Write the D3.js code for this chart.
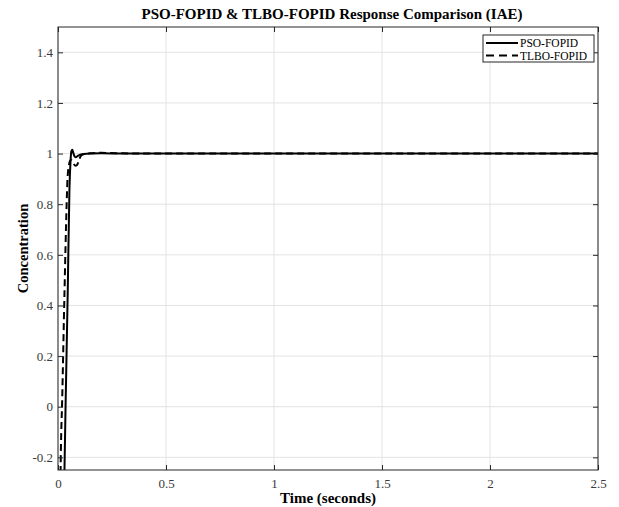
<!DOCTYPE html>
<html>
<head>
<meta charset="utf-8">
<script src="https://cdn.jsdelivr.net/npm/d3@7"></script>
<style>
  body { margin: 0; background: #fff; }
  text { font-family: "Liberation Serif", "Times New Roman", serif; }
</style>
</head>
<body>
<script>
// step response data (time in s, concentration)
var psoTime  = [0, 0.02, 0.03, 0.035, 0.045, 0.053, 0.058, 0.062, 0.066, 0.07, 0.076, 0.082, 0.09, 0.1, 0.12, 0.15, 0.2, 0.3, 0.5, 1, 1.5, 2, 2.5];
var psoValue = [-3, -0.9, -0.25, 0.0, 0.45, 0.86, 0.97, 1.01, 1.015, 1.005, 0.99, 0.985, 0.99, 0.995, 0.998, 1.0, 1.001, 1.0, 1.0, 1.0, 1.0, 1.0, 1.0];
var tlboTime  = [0, 0.005, 0.012, 0.02, 0.03, 0.04, 0.044, 0.05, 0.055, 0.06, 0.066, 0.072, 0.08, 0.088, 0.096, 0.105, 0.12, 0.15, 0.2, 0.25, 0.3, 0.5, 1, 1.5, 2, 2.5];
var tlboValue = [-3, -0.9, -0.25, 0.05, 0.45, 0.8, 0.9, 0.95, 0.97, 0.975, 0.97, 0.96, 0.952, 0.955, 0.97, 0.99, 0.998, 1.001, 1.003, 1.002, 1.001, 1.0, 1.0, 1.0, 1.0, 1.0];
var xTicks = [0, 0.5, 1, 1.5, 2, 2.5];
var yTicks = [-0.2, 0, 0.2, 0.4, 0.6, 0.8, 1, 1.2, 1.4];
var seriesNames = ["PSO-FOPID", "TLBO-FOPID"];

var width = 619, height = 507;
var margin = {left: 58, right: 21, top: 27, bottom: 37};
var plotW = width - margin.left - margin.right;
var plotH = height - margin.top - margin.bottom;

var svg = d3.select('body').append('svg').attr('width', width).attr('height', height);

var x = d3.scaleLinear().domain([0, 2.5]).range([0, plotW]);
var y = d3.scaleLinear().domain([-0.25, 1.5]).range([plotH, 0]);

var g = svg.append('g').attr('transform', 'translate(' + margin.left + ',' + margin.top + ')');

function fmt(d) { return String(+d.toFixed(1)); }

// grid
g.append('g').selectAll('line').data(xTicks).enter().append('line')
    .attr('x1', function (d) { return x(d); }).attr('x2', function (d) { return x(d); })
    .attr('y1', 0).attr('y2', plotH)
    .attr('stroke', '#e3e3e3').attr('stroke-width', 1);
g.append('g').selectAll('line').data(yTicks).enter().append('line')
    .attr('y1', function (d) { return y(d); }).attr('y2', function (d) { return y(d); })
    .attr('x1', 0).attr('x2', plotW)
    .attr('stroke', '#e3e3e3').attr('stroke-width', 1);

// curves
svg.append('defs').append('clipPath').attr('id', 'clip')
    .append('rect').attr('width', plotW).attr('height', plotH);

var line = d3.line()
    .x(function (d) { return x(d[0]); })
    .y(function (d) { return y(d[1]); })
    .curve(d3.curveMonotoneX);

var curves = g.append('g').attr('clip-path', 'url(#clip)');
curves.append('path')
    .datum(d3.zip(tlboTime, tlboValue))
    .attr('d', line)
    .attr('fill', 'none').attr('stroke', '#000').attr('stroke-width', 2)
    .attr('stroke-dasharray', '7,4');
curves.append('path')
    .datum(d3.zip(psoTime, psoValue))
    .attr('d', line)
    .attr('fill', 'none').attr('stroke', '#000').attr('stroke-width', 2);

// axes, ticks inside like matlab
var axisColor = '#262626';
var xAxis = d3.axisBottom(x).tickValues(xTicks).tickFormat(fmt).tickSizeInner(-5).tickSizeOuter(0).tickPadding(9);
var yAxis = d3.axisLeft(y).tickValues(yTicks).tickFormat(fmt).tickSizeInner(-5).tickSizeOuter(0).tickPadding(5);
var xAxisTop = d3.axisTop(x).tickValues(xTicks).tickFormat('').tickSizeInner(-5).tickSizeOuter(0);
var yAxisRight = d3.axisRight(y).tickValues(yTicks).tickFormat('').tickSizeInner(-5).tickSizeOuter(0);

var axes = [
    g.append('g').attr('transform', 'translate(0,' + plotH + ')').call(xAxis),
    g.append('g').call(yAxis),
    g.append('g').call(xAxisTop),
    g.append('g').attr('transform', 'translate(' + plotW + ',0)').call(yAxisRight)
];
axes.forEach(function (a) {
    a.select('.domain').remove();
    a.selectAll('line').attr('stroke', axisColor);
    a.selectAll('text').attr('fill', '#3a3a3a').style('font-size', '13px')
        .style('font-family', '"Liberation Serif", serif');
});

g.append('rect').attr('width', plotW).attr('height', plotH)
    .attr('fill', 'none').attr('stroke', axisColor).attr('stroke-width', 1);

// labels
svg.append('text').attr('x', margin.left + plotW / 2 + 4).attr('y', 19)
    .attr('text-anchor', 'middle').style('font-size', '15px').style('font-weight', 'bold')
    .text('PSO-FOPID & TLBO-FOPID Response Comparison (IAE)');
svg.append('text').attr('x', margin.left + plotW / 2).attr('y', 503)
    .attr('text-anchor', 'middle').style('font-size', '15px').style('font-weight', 'bold')
    .text('Time (seconds)');
svg.append('text').attr('transform', 'translate(28,' + (margin.top + plotH / 2) + ') rotate(-90)')
    .attr('text-anchor', 'middle').style('font-size', '14.5px').style('font-weight', 'bold')
    .text('Concentration');

// legend
var legend = svg.append('g').attr('transform', 'translate(483,35)');
legend.append('rect').attr('width', 111).attr('height', 27)
    .attr('fill', '#fff').attr('stroke', axisColor).attr('stroke-width', 1);
seriesNames.forEach(function (name, i) {
    var row = legend.append('g').attr('transform', 'translate(0,' + (8 + i * 12.5) + ')');
    row.append('line').attr('x1', 3).attr('x2', 35).attr('y1', 0).attr('y2', 0)
        .attr('stroke', '#000').attr('stroke-width', 2)
        .attr('stroke-dasharray', i === 1 ? '8,5' : null);
    row.append('text').attr('x', 37).attr('y', 4).style('font-size', '11.5px').attr('fill', '#000')
        .text(name);
});
</script>
</body>
</html>
